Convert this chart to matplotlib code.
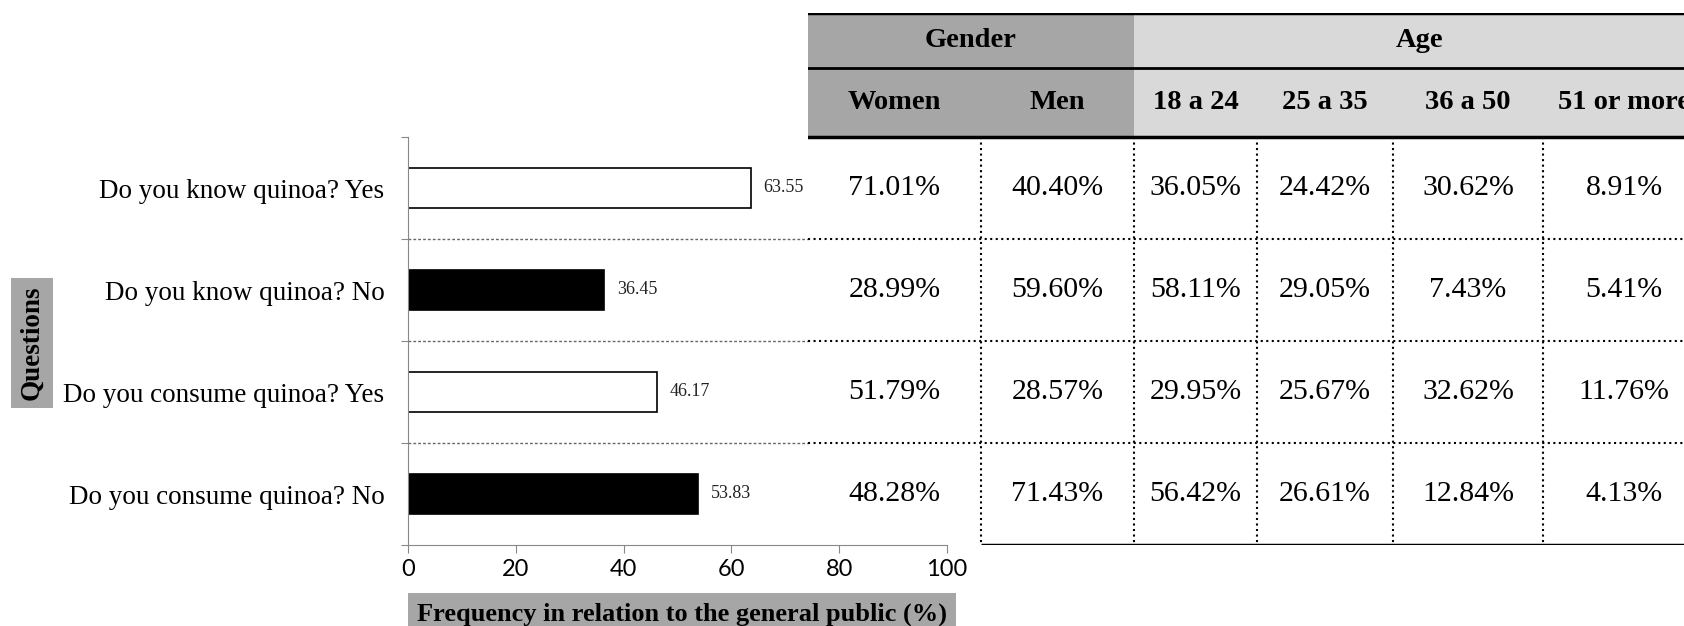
import matplotlib.pyplot as plt
from matplotlib.patches import Rectangle

# data
questions = ['Do you know quinoa? Yes', 'Do you know quinoa? No',
             'Do you consume quinoa? Yes', 'Do you consume quinoa? No']
freq = [63.55, 36.45, 46.17, 53.83]
answer = ['Yes', 'No', 'Yes', 'No']

groups = ['Gender', 'Age']
group_span = [(0, 2), (2, 6)]
columns = ['Women', 'Men', '18 a 24', '25 a 35', '36 a 50', '51 or more']
women = ['71.01%', '28.99%', '51.79%', '48.28%']
men = ['40.40%', '59.60%', '28.57%', '71.43%']
age_18_24 = ['36.05%', '58.11%', '29.95%', '56.42%']
age_25_35 = ['24.42%', '29.05%', '25.67%', '26.61%']
age_36_50 = ['30.62%', '7.43%', '32.62%', '12.84%']
age_51 = ['8.91%', '5.41%', '11.76%', '4.13%']
table_cols = [women, men, age_18_24, age_25_35, age_36_50, age_51]

serif = 'Liberation Serif'
W, H = 1684, 626
fig = plt.figure(figsize=(W / 100, H / 100), dpi=100)

# bar chart
ax = fig.add_axes([408 / W, 1 - 545 / H, (947 - 408) / W, (545 - 137) / H])
ypos = list(range(len(questions)))
colors = ['white' if a == 'Yes' else 'black' for a in answer]
ax.barh(ypos, freq, height=0.4, color=colors, edgecolor='black', linewidth=1.2)
ax.set_xlim(0, 100)
ax.set_ylim(3.5, -0.5)
for y, v in zip(ypos, freq):
    ax.annotate(f'{v:.2f}', (v, y), xytext=(9, 0), textcoords='offset points',
                va='center', ha='left', fontsize=13, family=serif, color='#222222')

table_left = 808
sep_frac = (table_left - 408) / (947 - 408)
for s in [0.5, 1.5, 2.5]:
    ax.axhline(s, xmin=0, xmax=sep_frac, color='#666666', ls=(0, (2, 1.5)), lw=1.0)

ax.set_yticks([-0.5, 0.5, 1.5, 2.5, 3.5])
ax.set_yticklabels([])
ax.set_yticks(ypos, minor=True)
ax.set_yticklabels(questions, minor=True, family=serif, fontsize=19.5)
ax.tick_params(axis='y', which='minor', length=0, pad=17)
ax.tick_params(axis='y', which='major', length=5, color='#888888')
ax.set_xticks([0, 20, 40, 60, 80, 100])
ax.tick_params(axis='x', length=6, color='#888888', pad=4, labelsize=17)
for lab in ax.get_xticklabels():
    lab.set_family('Lato')
for sp in ['top', 'right']:
    ax.spines[sp].set_visible(False)
for sp in ['left', 'bottom']:
    ax.spines[sp].set_color('#888888')

fig.text(682 / W, 1 - 614 / H, 'Frequency in relation to the general public (%)',
         ha='center', va='center', fontsize=19, fontweight='bold', family=serif,
         bbox=dict(boxstyle='square,pad=0.35', fc='#a6a6a6', ec='none'))
fig.text(32 / W, 1 - 343 / H, 'Questions', rotation=90, ha='center', va='center',
         fontsize=19.5, fontweight='bold', family=serif,
         bbox=dict(boxstyle='square,pad=0.3', fc='#a6a6a6', ec='none'))

# table
col_edges = [0, 173, 326, 449, 585, 735, 897]
head_top, head_mid = -1.716, -1.176
axt = fig.add_axes([table_left / W, 1 - 545 / H, (1705 - table_left) / W, (545 - 13) / H])
axt.set_xlim(col_edges[0], col_edges[-1])
axt.set_ylim(3.5, head_top)
axt.axis('off')

group_colors = ['#a6a6a6', '#d9d9d9']
for g, (c0, c1), fc in zip(groups, group_span, group_colors):
    x0, x1 = col_edges[c0], col_edges[c1]
    axt.add_patch(Rectangle((x0, head_top), x1 - x0, -0.5 - head_top, fc=fc, ec='none'))
    axt.text((x0 + x1) / 2, (head_top + head_mid) / 2, g, ha='center', va='center',
             fontsize=20.5, fontweight='bold', family=serif)

for i, name in enumerate(columns):
    xc = (col_edges[i] + col_edges[i + 1]) / 2
    axt.text(xc, (head_mid - 0.5) / 2, name, ha='center', va='center',
             fontsize=20.5, fontweight='bold', family=serif)
    for r, val in enumerate(table_cols[i]):
        axt.text(xc, r, val, ha='center', va='center', fontsize=21.5, family=serif)

axt.axhline(head_top, color='black', lw=2.5)
axt.axhline(head_mid, color='black', lw=2)
axt.axhline(-0.5, color='black', lw=2.5)
axt.hlines(3.5, col_edges[1], col_edges[-1], color='black', lw=2.5)
for s in [0.5, 1.5, 2.5]:
    axt.axhline(s, color='black', ls=':', lw=1.5)
axt.vlines(col_edges[1:-1], -0.5, 3.5, color='black', ls=':', lw=1.5)

fig.savefig('out.png', dpi=100)
